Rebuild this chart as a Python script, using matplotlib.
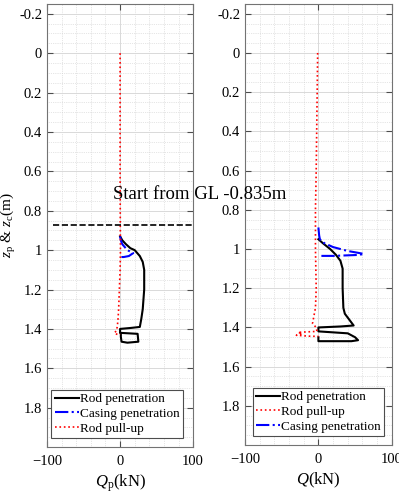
import numpy as np
import matplotlib
matplotlib.use('Agg')
import matplotlib.pyplot as plt
from matplotlib.ticker import MultipleLocator

plt.rcParams['font.family'] = ['Liberation Serif', 'DejaVu Serif']
plt.rcParams['mathtext.fontset'] = 'custom'
plt.rcParams['mathtext.rm'] = 'Liberation Serif'
plt.rcParams['mathtext.it'] = 'Liberation Serif:italic'

# left panel: tip resistance Q_p (kN) vs depth z (m)
rod_pen_z_p = [0.93, 0.95, 0.97, 0.99, 1.0, 1.03, 1.06, 1.1, 1.2, 1.3, 1.35, 1.39, 1.395, 1.40, 1.42, 1.425, 1.465, 1.47, 1.465, 1.44, 1.425]
rod_pen_q_p = [0, 3, 8, 14, 20, 27, 31, 33, 33, 31, 29, 27, 15, 0, 0, 24, 25, 10, 2, 1, 1]
casing_z_p = [0.93, 0.95, 0.97, 1.0, 1.015, 1.03, 1.035, 1.035]
casing_q_p = [0, 1, 3, 10, 18, 12, 5, 0]
pullup_z_p = [0, 0.3, 0.6, 0.9, 1.0, 1.1, 1.2, 1.3, 1.36, 1.39, 1.41, 1.42, 1.425, 1.43, 1.425]
pullup_q_p = [0, 0, 0, 0.3, 0.5, 0, -1, -2, -3, -4, -5, -8, -6, -2, 0]

# right panel: total resistance Q (kN) vs depth z (m)
rod_pen_z = [0.95, 0.97, 1.0, 1.03, 1.06, 1.1, 1.2, 1.3, 1.33, 1.36, 1.39, 1.395, 1.40, 1.42, 1.425, 1.43, 1.45, 1.465, 1.47, 1.47, 1.46, 1.45]
rod_pen_q = [0, 6, 16, 24, 30, 33, 33, 34, 36, 42, 48, 30, 0, 0, 20, 40, 50, 54, 45, 0, 0, 0]
casing_z = [0.89, 0.93, 0.95, 0.97, 0.99, 1.01, 1.02, 1.025, 1.03, 1.035, 1.035]
casing_q = [0, 1, 2, 8, 20, 40, 55, 62, 55, 20, 0]
pullup_z = [0, 0.3, 0.6, 0.8, 0.9, 1.0, 1.2, 1.3, 1.38, 1.40, 1.42, 1.425, 1.43, 1.435, 1.44, 1.445, 1.445]
pullup_q = [-1, -2, -3, -4, -4, -4, -3, -4, -8, -3, -2, -28, -22, -25, -30, -10, 0]

yticks = [-0.2, 0, 0.2, 0.4, 0.6, 0.8, 1, 1.2, 1.4, 1.6, 1.8]
ytick_labels = ['-0.2', '0', '0.2', '0.4', '0.6', '0.8', '1', '1.2', '1.4', '1.6', '1.8']

fig = plt.figure(figsize=(3.99, 4.94), dpi=100)
ax1 = fig.add_axes([0.118, 0.095, 0.366, 0.897])
ax2 = fig.add_axes([0.614, 0.099, 0.368, 0.893])


def style(ax):
    ax.set_xlim(-100, 100)
    ax.set_ylim(2.0, -0.25)
    ax.set_xticks([-100, 0, 100])
    ax.set_yticks(yticks)
    ax.set_yticklabels(ytick_labels)
    ax.xaxis.set_minor_locator(MultipleLocator(20))
    ax.yaxis.set_minor_locator(MultipleLocator(0.05))
    ax.grid(True, which='major', color='0.85', lw=0.7)
    ax.grid(True, which='minor', color='0.8', lw=0.5, ls=':')
    ax.set_axisbelow(True)
    ax.tick_params(which='both', direction='in', top=True, right=True, labelsize=10.5, color='0.3')
    ax.tick_params(which='minor', length=0)
    ax.tick_params(which='major', length=4)
    ax.tick_params(axis='x', pad=6)
    for s in ax.spines.values():
        s.set_color('0.45')
        s.set_linewidth(0.8)


def legend(ax, x):
    leg = ax.legend(loc='lower center', bbox_to_anchor=(x, 0.02), fontsize=9.5, fancybox=False,
                    edgecolor='0.3', framealpha=1, handlelength=1.8, handletextpad=0.1,
                    labelspacing=0.2, borderpad=0.25, borderaxespad=0)
    leg.get_frame().set_linewidth(0.8)


style(ax1)
ax1.plot(rod_pen_q_p, rod_pen_z_p, 'k-', lw=1.5, label='Rod penetration')
ax1.plot(casing_q_p, casing_z_p, 'b-.', lw=1.5, label='Casing penetration')
ax1.plot(pullup_q_p, pullup_z_p, 'r:', lw=1.2, label='Rod pull-up')
ax1.axhline(0.87, xmin=0.04, xmax=0.99, color='k', ls='--', lw=1.2)
ax1.set_xlabel(r'$Q_\mathrm{p}$(kN)', fontsize=12, labelpad=3)
ax1.set_ylabel(r'$z_\mathrm{p}$ & $z_\mathrm{c}$(m)', fontsize=11)
ax1.yaxis.set_label_coords(-0.2, 0.5)
legend(ax1, 0.48)

style(ax2)
ax2.plot(rod_pen_q, rod_pen_z, 'k-', lw=1.5, label='Rod penetration')
ax2.plot(pullup_q, pullup_z, 'r:', lw=1.2, label='Rod pull-up')
ax2.plot(casing_q, casing_z, 'b-.', lw=1.5, label='Casing penetration')
ax2.set_xlabel(r'$Q$(kN)', fontsize=12, labelpad=3)
legend(ax2, 0.5)

fig.text(0.5, 0.607, 'Start from GL -0.835m', fontsize=13.5, ha='center', va='center')

fig.savefig('out.png', dpi=100)
